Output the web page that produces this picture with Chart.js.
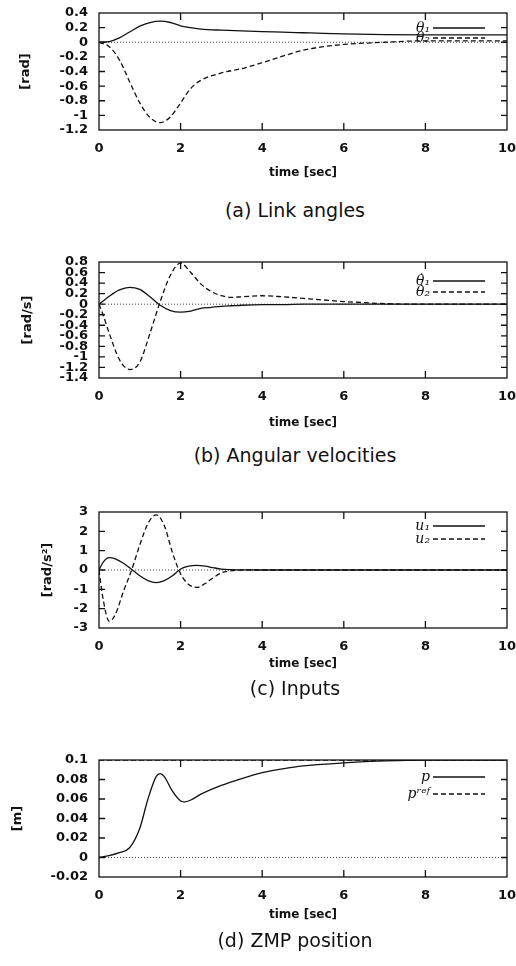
<!DOCTYPE html>
<html>
<head>
<meta charset="utf-8">
<script src="https://cdn.jsdelivr.net/npm/chart.js@4"></script>
<style>
  body { margin: 0; background: #fff; }
  #page { position: relative; width: 516px; height: 966px; overflow: hidden; }
  canvas { position: absolute; left: 0; }
  .caption { position: absolute; left: 74px; width: 442px; text-align: center;
    font-family: "DejaVu Sans"; font-size: 19px; line-height: 24px; color: #111; }
</style>
</head>
<body>
<div id="page">
  <canvas id="chartA" width="516" height="186" style="top:0px"></canvas>
  <div class="caption" style="top:198px">(a) Link angles</div>
  <canvas id="chartB" width="516" height="185" style="top:249px"></canvas>
  <div class="caption" style="top:443px">(b) Angular velocities</div>
  <canvas id="chartC" width="516" height="185" style="top:499px"></canvas>
  <div class="caption" style="top:676px">(c) Inputs</div>
  <canvas id="chartD" width="516" height="186" style="top:747px"></canvas>
  <div class="caption" style="top:928px">(d) ZMP position</div>
</div>
<script>
// (a) link angles
const timeA = [0, 0.25, 0.5, 0.75, 1, 1.25, 1.5, 1.75, 2, 2.25, 2.5, 3, 3.5, 4, 4.5, 5, 5.5, 6, 7, 8, 9, 10]
const theta1 = [0, 0.01, 0.06, 0.14, 0.22, 0.27, 0.29, 0.27, 0.225, 0.2, 0.18, 0.165, 0.155, 0.145, 0.138, 0.13, 0.122, 0.115, 0.105, 0.1, 0.1, 0.1]
const theta2 = [0, -0.06, -0.24, -0.54, -0.83, -1.03, -1.1, -1.02, -0.83, -0.63, -0.52, -0.42, -0.36, -0.28, -0.19, -0.11, -0.06, -0.03, 0, 0.02, 0.02, 0.02]

// (b) angular velocities
const timeB = [0, 0.1, 0.25, 0.5, 0.75, 1, 1.25, 1.5, 1.75, 2, 2.25, 2.5, 2.75, 3, 3.25, 3.5, 4, 4.5, 5, 5.5, 6, 6.5, 7, 8, 10]
const dtheta1 = [0, 0.06, 0.15, 0.27, 0.32, 0.28, 0.14, -0.02, -0.12, -0.15, -0.13, -0.08, -0.06, -0.04, -0.03, -0.02, -0.01, -0.01, 0, 0, 0, 0, 0, 0, 0]
const dtheta2 = [0, -0.2, -0.55, -1.05, -1.24, -1.1, -0.55, 0.05, 0.55, 0.78, 0.6, 0.38, 0.24, 0.16, 0.13, 0.14, 0.16, 0.14, 0.11, 0.08, 0.05, 0.03, 0.01, 0, 0]

// (c) inputs
const timeC = [0, 0.1, 0.25, 0.4, 0.6, 0.8, 1, 1.2, 1.4, 1.6, 1.8, 2, 2.2, 2.4, 2.6, 2.8, 3, 3.2, 3.5, 4, 5, 10]
const u1 = [0, 0.4, 0.64, 0.58, 0.35, 0.03, -0.3, -0.55, -0.65, -0.55, -0.3, 0.05, 0.2, 0.24, 0.2, 0.12, 0.05, 0.02, 0.01, 0, 0, 0]
const u2 = [0, -1.5, -2.65, -2.3, -1.1, 0, 1.3, 2.4, 2.85, 2.3, 0.9, -0.2, -0.75, -0.9, -0.7, -0.4, -0.15, -0.05, 0, 0, 0, 0]

// (d) ZMP position
const timeD = [0, 0.25, 0.5, 0.75, 1, 1.2, 1.4, 1.5, 1.6, 1.8, 2, 2.1, 2.25, 2.5, 3, 3.5, 4, 4.5, 5, 6, 7, 8, 9, 10]
const zmp = [0, 0.002, 0.005, 0.01, 0.03, 0.06, 0.083, 0.086, 0.083, 0.068, 0.058, 0.057, 0.059, 0.065, 0.074, 0.081, 0.087, 0.091, 0.094, 0.097, 0.099, 0.1, 0.1, 0.1]
const zmpRef = [0.1, 0.1, 0.1, 0.1, 0.1, 0.1, 0.1, 0.1, 0.1, 0.1, 0.1, 0.1, 0.1, 0.1, 0.1, 0.1, 0.1, 0.1, 0.1, 0.1, 0.1, 0.1, 0.1, 0.1]

const xTicks = [0, 2, 4, 6, 8, 10]

const ink = '#111'

// gnuplot-ish frame, inward ticks, zero line and the key in the upper right
const framePlugin = {
    id: 'frame',
    beforeDatasetsDraw(chart) {
        const {ctx, chartArea: a, scales: {y}} = chart
        const y0 = y.getPixelForValue(0)
        ctx.save()
        ctx.strokeStyle = '#444'
        ctx.lineWidth = 1
        ctx.setLineDash([1, 2])
        ctx.beginPath()
        ctx.moveTo(a.left, y0)
        ctx.lineTo(a.right, y0)
        ctx.stroke()
        ctx.restore()
    },
    afterDatasetsDraw(chart, args, opts) {
        const {ctx, chartArea: a, scales: {x, y}} = chart
        ctx.save()
        ctx.strokeStyle = ink
        ctx.lineWidth = 1.3
        ctx.strokeRect(a.left, a.top, a.right - a.left, a.bottom - a.top)
        ctx.beginPath()
        x.ticks.forEach(t => {
            const px = x.getPixelForValue(t.value)
            if (px <= a.left + 1 || px >= a.right - 1) return
            ctx.moveTo(px, a.bottom); ctx.lineTo(px, a.bottom - 7)
            ctx.moveTo(px, a.top); ctx.lineTo(px, a.top + 7)
        })
        y.ticks.forEach(t => {
            const py = y.getPixelForValue(t.value)
            if (py <= a.top + 1 || py >= a.bottom - 1) return
            ctx.moveTo(a.left, py); ctx.lineTo(a.left + 6, py)
            ctx.moveTo(a.right, py); ctx.lineTo(a.right - 6, py)
        })
        ctx.stroke()

        // key
        ctx.font = 'italic 14px "DejaVu Serif"'
        ctx.textAlign = 'right'
        ctx.textBaseline = 'middle'
        ctx.fillStyle = ink
        chart.data.datasets.forEach((ds, i) => {
            const ly = a.top + opts.keyTop + i * opts.keyGap
            ctx.fillText(ds.label, a.right - 77, ly)
            ctx.setLineDash(ds.borderDash || [])
            ctx.lineWidth = ds.borderWidth
            ctx.beginPath()
            ctx.moveTo(a.right - 74, ly)
            ctx.lineTo(a.right - 22, ly)
            ctx.stroke()
        })
        ctx.restore()
    }
}

function make_dataset(label, times, values, dashed) {
    return {
        label: label,
        data: times.map((t, i) => ({x: t, y: values[i]})),
        borderColor: ink,
        borderWidth: 1.3,
        borderDash: dashed ? [5, 3] : [],
        pointRadius: 0,
        cubicInterpolationMode: 'monotone',
        fill: false
    }
}

function make_chart(id, datasets, yMin, yMax, yStep, yTitle, yTitlePad, xTitlePad, keyTop, keyGap) {
    return new Chart(document.getElementById(id), {
        type: 'line',
        data: {datasets: datasets},
        options: {
            responsive: false,
            animation: false,
            layout: {padding: {top: 13, right: 9, left: 0, bottom: 0}},
            plugins: {
                legend: {display: false},
                tooltip: {enabled: false},
                frame: {keyTop: keyTop, keyGap: keyGap}
            },
            scales: {
                x: {
                    type: 'linear',
                    min: 0, max: 10,
                    afterBuildTicks: s => { s.ticks = xTicks.map(v => ({value: v})) },
                    grid: {display: false, drawTicks: false},
                    border: {display: false},
                    ticks: {color: ink, padding: 11, font: {family: 'DejaVu Sans', weight: 'bold', size: 13}},
                    title: {display: true, text: 'time [sec]', color: ink,
                        font: {family: 'DejaVu Sans', weight: 'bold', size: 12},
                        padding: {top: 0, bottom: xTitlePad}},
                    afterFit: s => { s.height = 56; s.paddingRight = 0; s.paddingLeft = 0 }
                },
                y: {
                    min: yMin, max: yMax,
                    grid: {display: false, drawTicks: false},
                    border: {display: false},
                    ticks: {
                        stepSize: yStep, autoSkip: false, color: ink, padding: 11,
                        font: {family: 'DejaVu Sans', weight: 'bold', size: 13},
                        callback: v => String(Number(v.toFixed(3)))
                    },
                    title: {display: true, text: yTitle, color: ink,
                        font: {family: 'DejaVu Sans', weight: 'bold', size: 13},
                        padding: {top: yTitlePad, bottom: 0}},
                    afterFit: s => { s.width = 99; s.paddingTop = 0; s.paddingBottom = 0 }
                }
            }
        },
        plugins: [framePlugin]
    })
}

make_chart('chartA', [
    make_dataset('θ₁', timeA, theta1, false),
    make_dataset('θ₂', timeA, theta2, true)
], -1.2, 0.4, 0.2, '[rad]', 18, 6, 15, 10)

make_chart('chartB', [
    make_dataset('θ̇₁', timeB, dtheta1, false),
    make_dataset('θ̇₂', timeB, dtheta2, true)
], -1.4, 0.8, 0.2, '[rad/s]', 20, 4, 19, 11)

make_chart('chartC', [
    make_dataset('u₁', timeC, u1, false),
    make_dataset('u₂', timeC, u2, true)
], -3, 3, 1, '[rad/s²]', 40, 13, 14, 13)

make_chart('chartD', [
    make_dataset('p', timeD, zmp, false),
    make_dataset('pʳᵉᶠ', timeD, zmpRef, true)
], -0.02, 0.1, 0.02, '[m]', 10, 11, 17, 17)
</script>
</body>
</html>
